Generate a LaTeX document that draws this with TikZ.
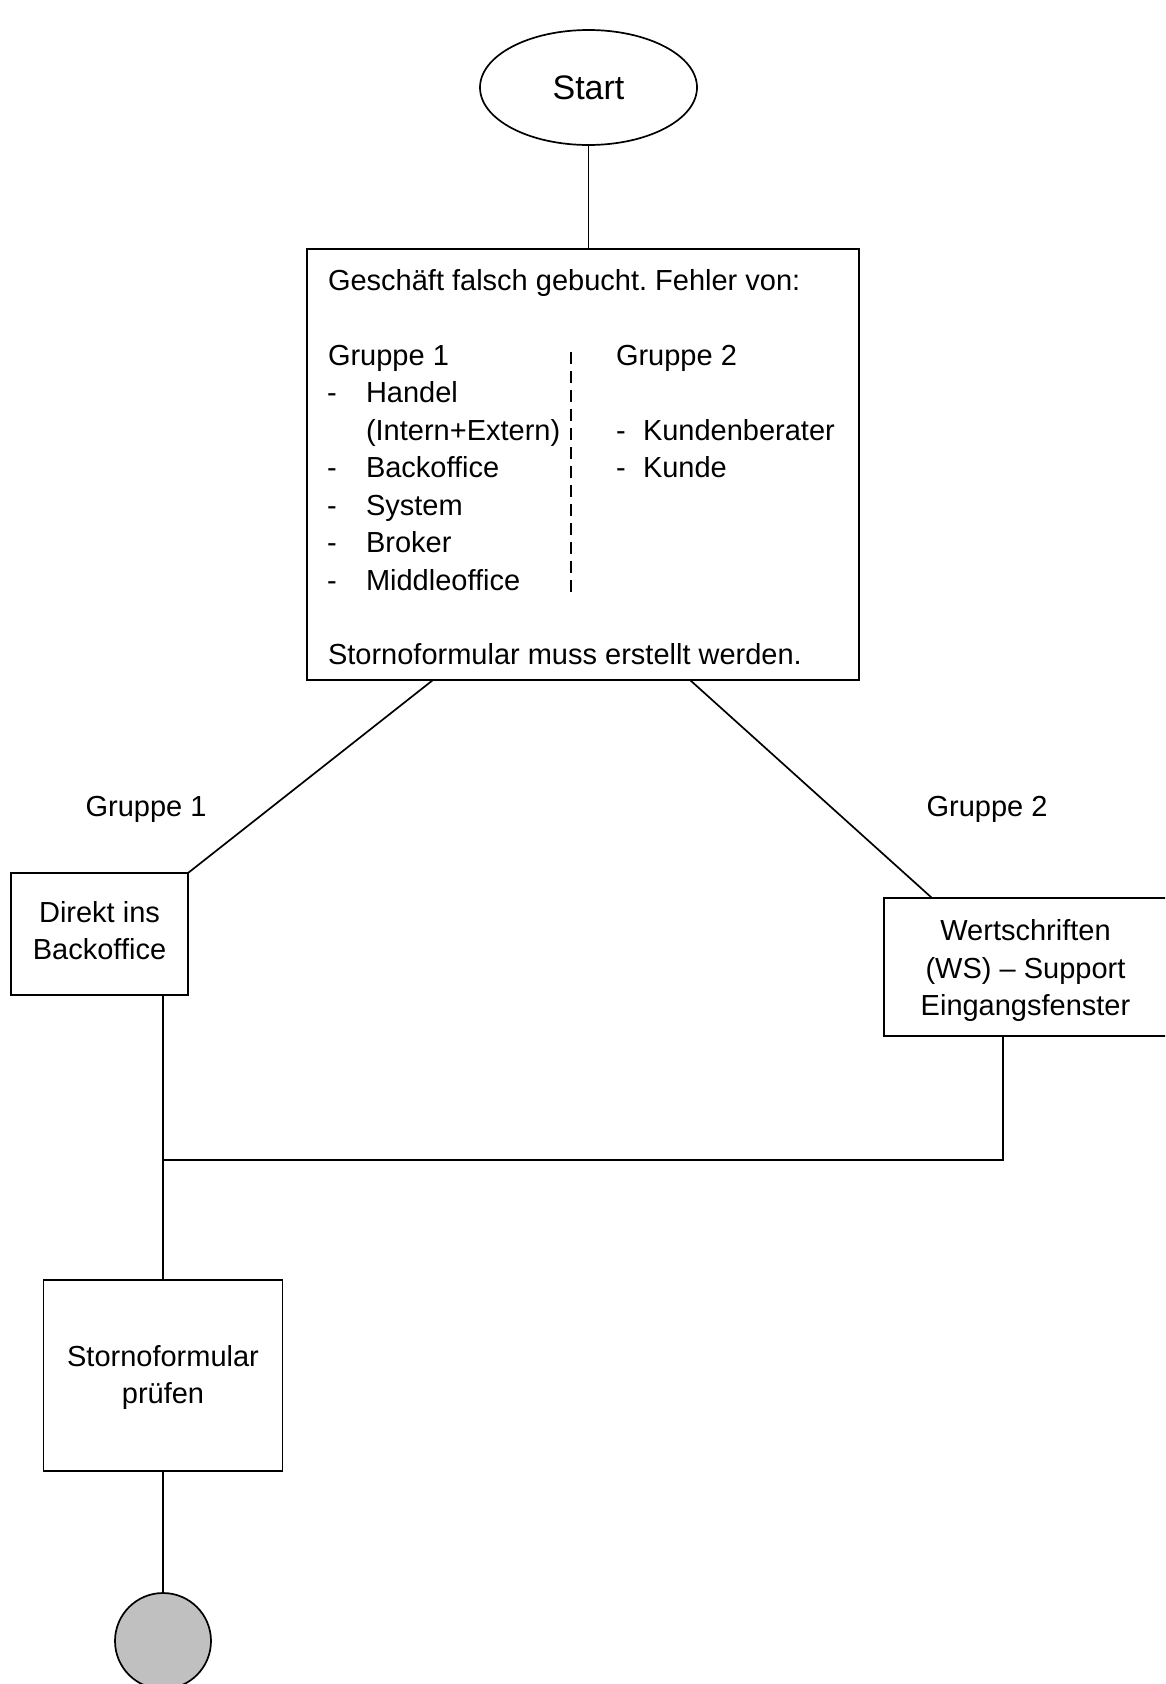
\documentclass[tikz,border=0pt]{standalone}
\usepackage{fontspec}
\setmainfont{Liberation Sans}
\usetikzlibrary{shapes.geometric}
\definecolor{endgray}{RGB}{192,192,192}
\frenchspacing
\begin{document}
\begin{tikzpicture}[x=1pt,y=-1pt,
  every node/.style={font=\fontsize{29}{37.5}\selectfont, inner sep=0pt, outer sep=0pt},
  box/.style={draw, line width=1.7pt, rectangle},
  boxtext/.style={align=center},
  txt/.style={anchor=base west},
  conn/.style={line width=1.7pt}]
\clip (0,0) rectangle (1165,1684);
\fill[white] (0,0) rectangle (1165,1684);

% nodes
\node[draw, ellipse, line width=1.7pt, minimum width=217pt, minimum height=115pt,
      font=\fontsize{34}{40}\selectfont] (start) at (588.5,87.5) {Start};
\node[box, minimum width=552pt, minimum height=431pt] (main) at (583,464.5) {};

\node[txt] (t0) at (328,290) {Geschäft falsch gebucht. Fehler von:};
\node[txt] (t1) at (328,365) {Gruppe 1};
\node[txt] (d1) at (327,402.5) {-};
\node[txt] (t2) at (366,402.5) {Handel};
\node[txt] (t3) at (366,440) {(Intern+Extern)};
\node[txt] (d2) at (327,477.5) {-};
\node[txt] (t4) at (366,477.5) {Backoffice};
\node[txt] (d3) at (327,515) {-};
\node[txt] (t5) at (366,515) {System};
\node[txt] (d4) at (327,552.5) {-};
\node[txt] (t6) at (366,552.5) {Broker};
\node[txt] (d5) at (327,590) {-};
\node[txt] (t7) at (366,590) {Middleoffice};
\node[txt] (u1) at (616,365) {Gruppe 2};
\node[txt] (e1) at (616,440) {-};
\node[txt] (u2) at (643,440) {Kundenberater};
\node[txt] (e2) at (616,477.5) {-};
\node[txt] (u3) at (643,477.5) {Kunde};
\node[txt] (t8) at (328,664) {Stornoformular muss erstellt werden.};

\coordinate (dtop) at (571,352);
\coordinate (dbot) at (571,592);
\draw[line width=1.7pt, dash pattern=on 12pt off 7pt] (dtop) -- (dbot);

\node[anchor=base] (g1) at (146,816) {Gruppe 1};
\node[anchor=base] (g2) at (987,816) {Gruppe 2};

\node[box, minimum width=177pt, minimum height=122pt] (direkt) at (99.5,934) {};
\node[boxtext] (direkt-t) at (99.5,930.5) {Direkt ins\\Backoffice};
\node[box, minimum width=283pt, minimum height=138pt] (ws) at (1025.5,966.7) {};
\node[boxtext] (ws-t) at (1025.5,970.5) {Wertschriften\\(WS) – Support\\Eingangsfenster};
\node[box, minimum width=239pt, minimum height=191pt] (storno) at (163,1375.5) {};
\node[boxtext] (storno-t) at (163,1377.6) {Stornoformular\\prüfen};
\node[draw, circle, fill=endgray, line width=1.7pt, minimum size=96pt] (end) at (163,1641) {};

% connectors
\draw[conn] (start.south) -- (start.south |- main.north);
\coordinate (l1) at (433,680);
\coordinate (r1) at (690,680);
\coordinate (r2) at (932,898);
\draw[conn] (l1) -- (direkt.north east);
\draw[conn] (r1) -- (r2);
\coordinate (j) at (163,1160);
\coordinate (wsb) at (1003,1035.7);
\draw[conn] (storno.north |- direkt.south) -- (storno.north);
\draw[conn] (wsb) |- (j);
\draw[conn] (storno.south) -- (end.north);
\end{tikzpicture}
\end{document}
